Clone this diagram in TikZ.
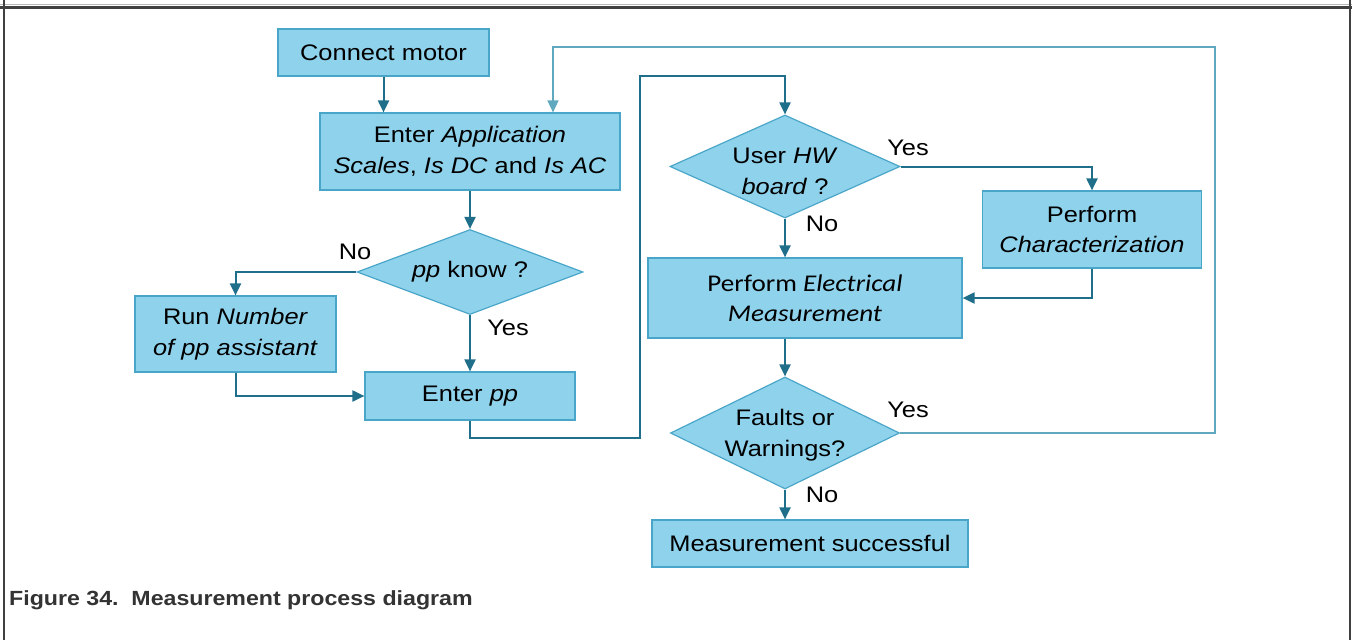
\documentclass[tikz,border=0pt]{standalone}
\usepackage{fontspec}
\setmainfont[FakeStretch=1.13]{Liberation Sans}
\newfontfamily\calibfont[FakeStretch=1.13]{Carlito}
\usetikzlibrary{arrows.meta,shapes.geometric}
\definecolor{boxfill}{RGB}{143,210,236}
\definecolor{boxline}{RGB}{74,166,200}
\definecolor{flowline}{RGB}{31,110,138}
\definecolor{backline}{RGB}{96,168,190}
\begin{document}
\begin{tikzpicture}[x=1pt, y=-1pt,
        every node/.style = {font=\fontsize{22.5}{30.5}\selectfont},
        box/.style = {draw=boxline, fill=boxfill, line width=1.2pt, inner sep=0pt, align=center},
        decide/.style = {diamond, draw=boxline, fill=boxfill, line width=1.2pt, inner sep=0pt},
        flow/.style = {draw=flowline, line width=2pt, -{Triangle[length=12pt,width=11pt]}},
        backflow/.style = {flow, draw=backline, line width=1.5pt}]
        \useasboundingbox (0, 0) rectangle (1352, 640);
        \fill [gray!55] (0, 3.5) rectangle (1352, 5);
        \fill [black!75] (0, 5.5) rectangle (1352, 9);
        \fill [black!75] (3, 0) rectangle (5, 640);
        \fill [black!75] (1348.5, 0) rectangle (1351, 640);
        \node [box, minimum width=211, minimum height=47] (motor) at (383.5, 52.5) {Connect motor};
        \node [box, minimum width=300, minimum height=77] (appl) at (470, 151.5) {Enter \textit{Application}\\\textit{Scales}, \textit{Is DC} and \textit{Is AC}};
        \node [decide, minimum width=226, minimum height=85, label={center:\textit{pp} know ?}] (ppknow) at (470, 272) {};
        \node [box, minimum width=201, minimum height=76] (runnum) at (235.5, 334) {Run \textit{Number}\\\textit{of pp assistant}};
        \node [box, minimum width=210, minimum height=48] (enterpp) at (470, 396) {Enter \textit{pp}};
        \node [decide, minimum width=230, minimum height=103, label={[align=center, yshift=-5]center:User \textit{HW}\\\textit{board} ?}] (hwboard) at (785, 166.5) {};
        \node [box, minimum width=219, minimum height=77] (charact) at (1092, 229.5) {Perform\\\textit{Characterization}};
        \node [box, minimum width=314, minimum height=80, font=\calibfont\fontsize{24}{30}\selectfont] (elec) at (805, 298) {Perform \textit{Electrical}\\\textit{Measurement}};
        \node [decide, minimum width=229, minimum height=112, label={[align=center, yshift=-2]center:Faults or\\Warnings?}] (faults) at (785, 433) {};
        \node [box, minimum width=316, minimum height=47] (success) at (810, 543.5) {Measurement successful};
        \node (nopp) at (355, 252) {No};
        \node (yespp) at (508, 328) {Yes};
        \node (yeshw) at (908, 148) {Yes};
        \node (nohw) at (822, 224) {No};
        \node (yesfault) at (908, 410) {Yes};
        \node (nofault) at (822, 495) {No};
        \node [anchor=west, inner sep=0pt, text=black!80, font=\bfseries\fontsize{20.5}{24}\selectfont] (caption) at (9, 600) {Figure 34.\ \ Measurement process diagram};
        \coordinate (bendlow) at (640, 438);
        \coordinate (bendtop) at (640, 76);
        \coordinate (loopright) at (1215, 47);
        \coordinate (loopleft) at (553, 47);
        \draw [flow] (motor.south) -- (motor.south |- appl.north);
        \draw [flow] (appl.south) -- (ppknow.north);
        \draw [flow] (ppknow.west) -| (runnum.north);
        \draw [flow] (ppknow.south) -- (enterpp.north);
        \draw [flow] (runnum.south) |- (enterpp.west);
        \draw [flow] (enterpp.south) |- (bendlow) -- (bendtop) -| (hwboard.north);
        \draw [flow] (hwboard.east) -| (charact.north);
        \draw [flow] (hwboard.south) -- (hwboard.south |- elec.north);
        \draw [flow] (charact.south) |- (elec.east);
        \draw [flow] (faults.north |- elec.south) -- (faults.north);
        \draw [flow] (faults.south) -- (faults.south |- success.north);
        \draw [backflow] (faults.east) -| (loopright) -- (loopleft) -- (loopleft |- appl.north);
    \end{tikzpicture}
\end{document}
